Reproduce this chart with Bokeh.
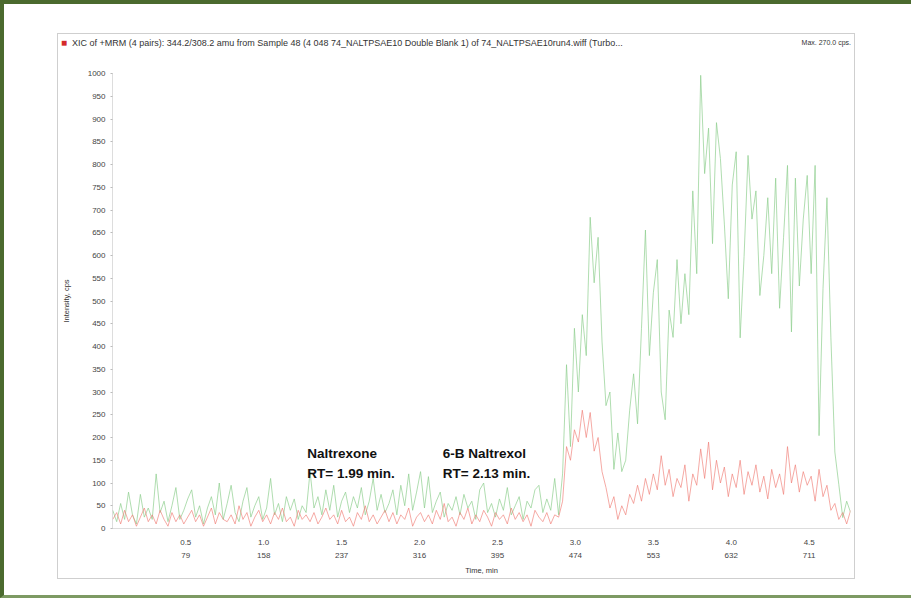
import numpy as np
from bokeh.plotting import figure
from bokeh.models import Range1d, Label, FixedTicker, Div
from bokeh.layouts import column
from bokeh.embed import file_html
from bokeh.resources import INLINE

# Acquisition: 158 scans per minute, every 4th scan kept
SCANS_PER_MIN = 158.0
FIRST_SCAN = 5
SCAN_STEP = 4

# Transition 1 (green) intensities, cps
green = [
    40, 15, 55, 20, 80, 30, 10, 75, 25, 45,
    20, 120, 35, 60, 15, 50, 90, 20, 40, 65,
    85, 25, 50, 10, 45, 70, 30, 100, 20, 55,
    95, 35, 15, 60, 90, 25, 50, 70, 20, 45,
    110, 30, 55, 15, 70, 40, 65, 20, 50, 35,
    125, 45, 70, 30, 85, 40, 95, 25, 60, 80,
    35, 70, 45, 90, 30, 60, 110, 40, 75, 35,
    55, 85, 30, 95, 50, 120, 40, 80, 125, 45,
    114, 35, 60, 80, 25, 55, 40, 70, 30, 75,
    45, 60, 20, 85, 100, 35, 55, 25, 65, 40,
    90, 30, 50, 70, 20, 60, 45, 85, 95, 35,
    65, 40, 110, 30,
    120, 360, 180, 440, 300, 470, 380, 684, 540, 640,
    410, 270, 300, 130, 210, 125, 150, 260, 340, 230,
    440, 656, 380, 518, 591, 300, 239, 480, 420, 591,
    450, 560, 470, 742, 560, 996, 780, 880, 626, 892,
    813, 669, 505, 755, 828, 419, 598, 820, 680, 742,
    512, 600, 727, 560, 770, 484, 640, 798, 432, 770,
    533, 680, 776, 560, 798, 204, 527, 727, 419, 168,
    97, 24, 60, 35,
]

# Transition 2 (red) intensities, cps
red = [
    20, 35, 10, 40, 15, 30, 5, 25, 45, 15,
    30, 10, 40, 20, 5, 35, 15, 30, 10, 25,
    40, 15, 30, 5, 25, 45, 10, 35, 20, 15,
    30, 10, 50, 20, 35, 5, 25, 40, 15, 30,
    10, 35, 20, 45, 15, 25, 5, 40, 20, 30,
    15, 35, 10, 25, 45, 20, 30, 10, 40, 15,
    25, 5, 35, 20, 50, 15, 30, 10, 25, 40,
    15, 35, 10, 30, 20, 45, 5, 25, 35, 15,
    30, 10, 40, 20, 55, 15, 25, 5, 35, 20,
    45, 10, 30, 15, 40, 25, 5, 35, 20, 30,
    10, 45, 20, 35, 15, 30, 5, 40, 25, 15,
    35, 10, 30, 25,
    60, 180, 150, 217, 190, 260, 200, 255, 170, 200,
    125, 90, 45, 70, 20, 50, 30, 75, 55, 95,
    60, 110, 75, 120, 85, 160, 95, 130, 70, 110,
    90, 140, 60, 120, 95, 175, 110, 190, 85, 150,
    100, 135, 70, 120, 90, 150, 75, 125, 95, 140,
    80, 115, 65, 130, 90, 120, 75, 180, 100, 140,
    80, 125, 95, 115, 60, 130, 70, 95, 40, 55,
    20, 35, 10, 40,
]

time_ticks = [0.5, 1.0, 1.5, 2.0, 2.5, 3.0, 3.5, 4.0, 4.5]
scan_labels = ["79", "158", "237", "316", "395", "474", "553", "632", "711"]
intensity_ticks = list(range(0, 1001, 50))

scans = FIRST_SCAN + SCAN_STEP * np.arange(len(green))
t = scans / SCANS_PER_MIN

FONT = "Liberation Sans"

p = figure(
    width=796, height=526,
    x_range=Range1d(0.03, 4.765), y_range=Range1d(0, 1000),
    output_backend="svg", toolbar_location=None,
    min_border_left=52, min_border_right=4,
    min_border_top=21, min_border_bottom=40,
)
p.background_fill_color = "white"
p.border_fill_color = "white"
p.outline_line_color = None
p.grid.visible = False

p.line(t, green, line_color="#8fcf8f", line_alpha=0.7, line_width=1)
p.line(t, red, line_color="#f07d75", line_alpha=0.65, line_width=1)

# Y axis
ya = p.yaxis[0]
ya.ticker = FixedTicker(ticks=intensity_ticks)
ya.axis_label = "Intensity, cps"
ya.axis_label_text_font = FONT
ya.axis_label_text_font_size = "7.5px"
ya.axis_label_text_font_style = "normal"
ya.axis_label_text_color = "#333333"
ya.axis_label_standoff = 14
ya.major_label_text_font = FONT
ya.major_label_text_font_size = "8px"
ya.major_label_text_color = "#444444"
ya.major_label_standoff = 5
ya.axis_line_color = "#bbbbbb"
ya.axis_line_dash = "1 1"
ya.major_tick_line_color = "#bbbbbb"
ya.major_tick_out = 2
ya.major_tick_in = 0
ya.minor_tick_line_color = None

# X axis: time with scan number beneath
xa = p.xaxis[0]
xa.ticker = FixedTicker(ticks=time_ticks)
xa.major_label_overrides = {tk: f"{tk:.1f}\n{sc}" for tk, sc in zip(time_ticks, scan_labels)}
xa.major_label_text_font = FONT
xa.major_label_text_font_size = "8px"
xa.major_label_text_color = "#444444"
xa.major_label_text_line_height = 1.5
xa.major_label_standoff = 3
xa.axis_label = "Time, min"
xa.axis_label_text_font = FONT
xa.axis_label_text_font_size = "7.5px"
xa.axis_label_text_font_style = "normal"
xa.axis_label_text_color = "#333333"
xa.axis_label_standoff = 3
xa.axis_line_color = "#dddddd"
xa.major_tick_line_color = None
xa.minor_tick_line_color = None

# Peak annotations
for x0, txt in [(1.28, "Naltrexone\nRT= 1.99 min."), (2.149, "6-B Naltrexol\nRT= 2.13 min.")]:
    p.add_layout(Label(x=x0, y=181, text=txt, text_font=FONT, text_font_size="13.5px",
                       text_font_style="bold", text_color="#111111",
                       text_baseline="top", text_line_height=1.3))

# Header line of the trace pane
header = Div(
    width=796, height=18, margin=(0, 0, 0, 0),
    text=(
        "<div style=\"display:flex;justify-content:space-between;align-items:center;"
        "height:18px;font-family:'Liberation Sans';color:#333;"
        "padding:0 3px 0 3px;box-sizing:border-box;width:796px;white-space:nowrap\">"
        "<span style=\"font-size:9px\"><span style=\"color:#d42a2a;font-size:10px\">&#9632;</span>"
        "&nbsp;&nbsp;XIC of +MRM (4 pairs): 344.2/308.2 amu from Sample 48 (4 048 74_NALTPSAE10 "
        "Double Blank 1) of 74_NALTPSAE10run4.wiff (Turbo...</span>"
        "<span style=\"font-size:7px\">Max. 270.0 cps.</span></div>"
    ),
)

panel = column(header, p, width=798, height=546, margin=(29, 0, 0, 53),
               styles={"border": "1px solid #cfcfcf", "background-color": "white"})

page = column(panel, width=911, height=598, styles={
    "border-top": "4px solid #4b6a2e",
    "border-left": "4px solid #4b6a2e",
    "border-bottom": "3px solid #7d9a63",
    "background-color": "white",
    "box-sizing": "border-box",
})

open("out.html", "w").write(file_html(page, INLINE))
